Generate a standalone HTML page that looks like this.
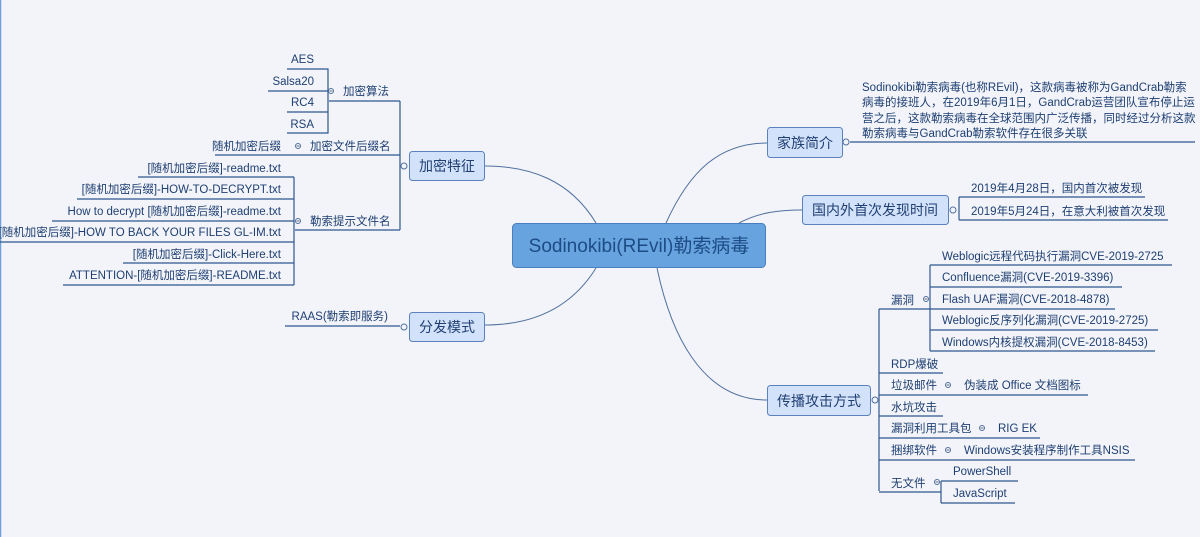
<!DOCTYPE html>
<html><head><meta charset="utf-8"><style>
html,body{margin:0;padding:0;background:#f2f4f9;}
svg{display:block;}
text{font-family:"Liberation Sans","Noto Sans CJK SC",sans-serif;fill:#1f3f72;}
.l{font-size:11.5px;}
.m{font-size:14px;}
</style></head><body>
<svg width="1200" height="537" viewBox="0 0 1200 537" xmlns="http://www.w3.org/2000/svg">
<rect x="0" y="0" width="1200" height="537" fill="#f2f4f9"/>
<line x1="0.5" y1="0" x2="0.5" y2="537" stroke="#6fa0dc" stroke-width="1.5"/>
<g fill="none" stroke="#52709e" stroke-width="1">
<!-- main curves -->
<path d="M596,223 C570,180 530,166 485,166"/>
<path d="M596,268 C570,310 530,325 485,325"/>
<path d="M666,223 C690,170 720,143 767,143"/>
<path d="M739,223 C760,212 780,210 802,210"/>
<path d="M657,268 C670,330 700,400 767,400"/>
</g>
<g fill="none" stroke="#2f5690" stroke-width="1.2">
<!-- left 加密特征 -->
<path d="M400,101 V230"/>
<path d="M329,101 H400"/>
<path d="M215,155 H400"/>
<path d="M295,230 H400"/>
<path d="M287,69 H328 V133 H287"/>
<path d="M268,91 H328"/>
<path d="M287,112 H328"/>
<path d="M294,177 V285"/>
<path d="M138,177 H294"/>
<path d="M77,199 H294"/>
<path d="M52,221 H294"/>
<path d="M0,242 H294"/>
<path d="M123,263 H294"/>
<path d="M63,285 H294"/>
<path d="M285,326 H400"/>
<!-- right -->
<path d="M850,142 H1195"/>
<path d="M959,197 V220"/>
<path d="M959,197 H1145"/>
<path d="M959,220 H1168"/>
<path d="M879,309 V491"/>
<path d="M879,309 H930"/>
<path d="M930,265 V351"/>
<path d="M930,265 H1172"/>
<path d="M930,287 H1122"/>
<path d="M930,309 H1115"/>
<path d="M930,330 H1158"/>
<path d="M930,351 H1155"/>
<path d="M879,373 H943"/>
<path d="M879,395 H1088"/>
<path d="M879,416 H943"/>
<path d="M879,438 H1040"/>
<path d="M879,460 H1135"/>
<path d="M879,492 H941"/>
<path d="M941,481 V503"/>
<path d="M941,481 H1018"/>
<path d="M941,503 H1015"/>
</g>
<!-- small circles -->
<g fill="#f2f4f9" stroke="#52709e" stroke-width="1">
<circle cx="404" cy="166" r="3"/>
<circle cx="404" cy="327" r="3"/>
<circle cx="846" cy="142" r="3"/>
<circle cx="953" cy="210" r="3"/>
<circle cx="875" cy="400" r="3"/>
<circle cx="331" cy="91" r="2.5"/>
<circle cx="298" cy="146" r="2.5"/>
<circle cx="298" cy="221" r="2.5"/>
<circle cx="926" cy="299" r="2.5"/>
<circle cx="948" cy="385" r="2.5"/>
<circle cx="982" cy="428" r="2.5"/>
<circle cx="948" cy="450" r="2.5"/>
<circle cx="937" cy="482" r="2.5"/>
</g>
<g fill="#5f6e80" stroke="none">
<rect x="329.5" y="90.5" width="3" height="1"/><rect x="296.5" y="145.5" width="3" height="1"/><rect x="296.5" y="220.5" width="3" height="1"/>
<rect x="924.5" y="298.5" width="3" height="1"/><rect x="946.5" y="384.5" width="3" height="1"/><rect x="980.5" y="427.5" width="3" height="1"/><rect x="946.5" y="449.5" width="3" height="1"/><rect x="935.5" y="481.5" width="3" height="1"/>
</g>
<!-- boxes -->
<rect x="512.5" y="223.5" width="253" height="44" rx="4" fill="#67a3de" stroke="#4a7fbf"/>
<text x="639" y="252" text-anchor="middle" style="font-size:19px;fill:#1d4c86">Sodinokibi(REvil)勒索病毒</text>
<g fill="#d3e2fb" stroke="#5b82bd">
<rect x="409.5" y="151.5" width="75" height="29" rx="3"/>
<rect x="409.5" y="312.5" width="75" height="29" rx="3"/>
<rect x="767.5" y="127.5" width="75" height="30" rx="3"/>
<rect x="802.5" y="195.5" width="146" height="29" rx="3"/>
<rect x="767.5" y="385.5" width="103" height="30" rx="3"/>
</g>
<text class="m" x="447" y="171" text-anchor="middle">加密特征</text>
<text class="m" x="447" y="332" text-anchor="middle">分发模式</text>
<text class="m" x="805" y="148" text-anchor="middle">家族简介</text>
<text class="m" x="875" y="215" text-anchor="middle">国内外首次发现时间</text>
<text class="m" x="819" y="406" text-anchor="middle">传播攻击方式</text>
<!-- left texts -->
<g class="l">
<text x="343" y="95">加密算法</text>
<text x="310" y="150">加密文件后缀名</text>
<text x="310" y="225">勒索提示文件名</text>
<text x="281" y="150" text-anchor="end">随机加密后缀</text>
<text x="314" y="63" text-anchor="end">AES</text>
<text x="314" y="85" text-anchor="end">Salsa20</text>
<text x="314" y="106" text-anchor="end">RC4</text>
<text x="314" y="128" text-anchor="end">RSA</text>
<text x="281" y="172" text-anchor="end">[随机加密后缀]-readme.txt</text>
<text x="281" y="193" text-anchor="end">[随机加密后缀]-HOW-TO-DECRYPT.txt</text>
<text x="281" y="215" text-anchor="end">How to decrypt [随机加密后缀]-readme.txt</text>
<text x="281" y="236" text-anchor="end">[随机加密后缀]-HOW TO BACK YOUR FILES GL-IM.txt</text>
<text x="281" y="258" text-anchor="end">[随机加密后缀]-Click-Here.txt</text>
<text x="281" y="279" text-anchor="end">ATTENTION-[随机加密后缀]-README.txt</text>
<text x="388" y="320" text-anchor="end">RAAS(勒索即服务)</text>
<!-- right -->
<text x="862" y="91">Sodinokibi勒索病毒(也称REvil)，这款病毒被称为GandCrab勒索</text>
<text x="862" y="106">病毒的接班人，在2019年6月1日，GandCrab运营团队宣布停止运</text>
<text x="862" y="122">营之后，这款勒索病毒在全球范围内广泛传播，同时经过分析这款</text>
<text x="862" y="137">勒索病毒与GandCrab勒索软件存在很多关联</text>
<text x="971" y="192">2019年4月28日，国内首次被发现</text>
<text x="971" y="215">2019年5月24日，在意大利被首次发现</text>
<text x="891" y="304">漏洞</text>
<text x="942" y="260">Weblogic远程代码执行漏洞CVE-2019-2725</text>
<text x="942" y="281">Confluence漏洞(CVE-2019-3396)</text>
<text x="942" y="303">Flash UAF漏洞(CVE-2018-4878)</text>
<text x="942" y="324">Weblogic反序列化漏洞(CVE-2019-2725)</text>
<text x="942" y="346">Windows内核提权漏洞(CVE-2018-8453)</text>
<text x="891" y="368">RDP爆破</text>
<text x="891" y="389">垃圾邮件</text>
<text x="964" y="389">伪装成 Office 文档图标</text>
<text x="891" y="411">水坑攻击</text>
<text x="891" y="432">漏洞利用工具包</text>
<text x="998" y="432">RIG EK</text>
<text x="891" y="454">捆绑软件</text>
<text x="964" y="454">Windows安装程序制作工具NSIS</text>
<text x="891" y="487">无文件</text>
<text x="953" y="475">PowerShell</text>
<text x="953" y="497">JavaScript</text>
</g>
</svg>
</body></html>
